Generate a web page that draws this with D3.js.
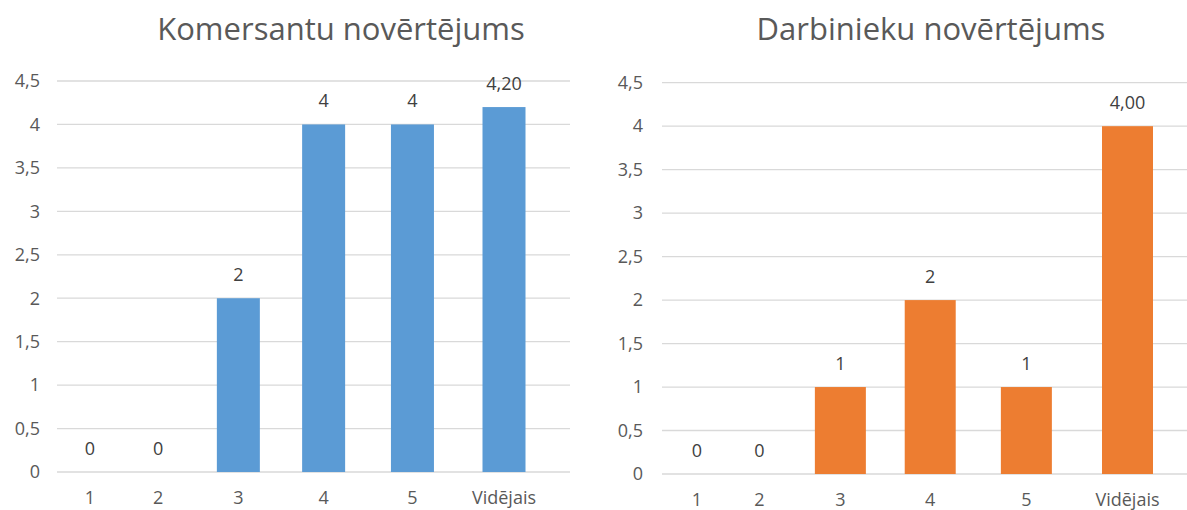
<!DOCTYPE html>
<html><head><meta charset="utf-8">
<script src="https://cdn.jsdelivr.net/npm/d3@7"></script>
<style>body{margin:0;background:#fff}svg{display:block}text{font-family:"Open Sans",sans-serif}</style>
</head><body><svg id="c" width="1187" height="510"></svg>
<script>
const categories = ["1", "2", "3", "4", "5", "Vidējais"];
const komersantiValues = [0, 0, 2, 4, 4, 4.2];
const darbiniekiValues = [0, 0, 1, 2, 1, 4.0];
const yTicks = [0, 0.5, 1, 1.5, 2, 2.5, 3, 3.5, 4, 4.5];
const titles = ["Komersantu novērtējums", "Darbinieku novērtējums"];
const colors = ["#5B9BD5", "#ED7D31"];

const svg = d3.select("#c");
const fmtTick = v => String(v).replace(".", ",");
const fmtLabel = (v, i) => categories[i] === "Vidējais" ? v.toFixed(2).replace(".", ",") : String(v);

const panels = [
  {values: komersantiValues, title: titles[0], color: colors[0], titleX: 341,
   gridX: [57, 570], yRange: [472, 81], xRange: [90, 504], exp: 1.12, barW: 43, axisX: 40},
  {values: darbiniekiValues, title: titles[1], color: colors[1], titleX: 931,
   gridX: [662, 1187], yRange: [474, 82.7], xRange: [697, 1127.5], exp: 1.2, barW: 51, axisX: 643}
];

panels.forEach(p => {
  const g = svg.append("g");
  const y = d3.scaleLinear().domain([0, 4.5]).range(p.yRange);
  // category centre positions (category index -> x)
  const x = d3.scalePow().exponent(p.exp).domain([0, categories.length - 1]).range(p.xRange);
  const cx = i => x(i);

  g.append("text").attr("x", p.titleX).attr("y", 40).attr("text-anchor", "middle")
    .attr("font-size", 31).attr("fill", "#595959").text(p.title);

  g.selectAll("line.grid").data(yTicks).join("line")
    .attr("x1", p.gridX[0]).attr("x2", p.gridX[1])
    .attr("y1", d => y(d)).attr("y2", d => y(d))
    .attr("stroke", "#d9d9d9").attr("stroke-width", 1.3);

  g.selectAll("text.yt").data(yTicks).join("text")
    .attr("x", p.axisX).attr("y", d => y(d)).attr("dy", "0.35em")
    .attr("text-anchor", "end").attr("font-size", 18).attr("fill", "#595959")
    .text(fmtTick);

  g.selectAll("rect").data(p.values).join("rect")
    .attr("x", (d, i) => cx(i) - p.barW / 2).attr("width", p.barW)
    .attr("y", d => y(d)).attr("height", d => y(0) - y(d))
    .attr("fill", p.color);

  g.selectAll("text.lbl").data(p.values).join("text")
    .attr("x", (d, i) => cx(i))
    .attr("y", d => y(d) - 17).attr("text-anchor", "middle")
    .attr("font-size", 18).attr("fill", "#404040")
    .text(fmtLabel);

  g.selectAll("text.xt").data(categories).join("text")
    .attr("x", (d, i) => cx(i)).attr("y", y(0) + 32)
    .attr("text-anchor", "middle").attr("font-size", 18).attr("fill", "#595959")
    .text(d => d);
});
</script></body></html>
